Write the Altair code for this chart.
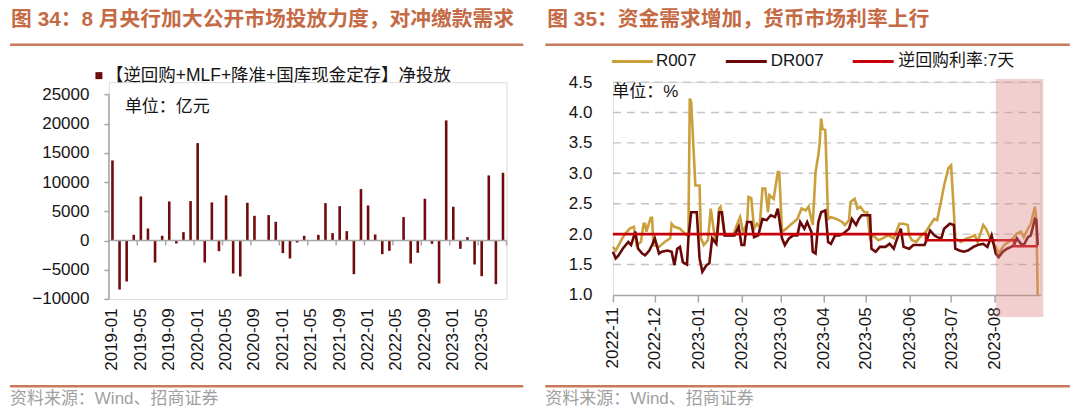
import altair as alt
import pandas as pd

# ---------------- data: left panel ----------------
months = [f"{y}-{m:02d}" for y in range(2019, 2024) for m in range(1, 13)][:56]
net_injection = [
    13700, -8390, -7020, 970, 7530, 2050, -3770, 800, 6680, -510, 1430, 6740,
    16670, -3770, 6510, -1830, 7710, -5650, -6160, 6450, 4220, 0, 4340, 3200,
    -2170, -3080, -340, 800, 0, 970, 6390, 1260, 5880, 1600, -5770, 8790,
    5990, 1030, -2340, -1770, 0, 4000, -3940, -2110, 7140, -570, -7360, 20550,
    5770, -1430, 570, -4110, -6110, 11130, -7480, 11590,
]
left_title = "图 34：8 月央行加大公开市场投放力度，对冲缴款需求"
left_legend = "【逆回购+MLF+降准+国库现金定存】净投放"
left_unit = "单位：亿元"
left_yticks = [-10000, -5000, 0, 5000, 10000, 15000, 20000, 25000]

# ---------------- data: right panel ----------------
r007_dates = [
    "2022-11-01", "2022-11-03", "2022-11-07", "2022-11-09", "2022-11-13", "2022-11-16", "2022-11-18",
    "2022-11-21", "2022-11-23", "2022-11-24", "2022-11-25", "2022-11-28", "2022-11-29", "2022-11-30",
    "2022-12-04", "2022-12-08", "2022-12-12", "2022-12-13", "2022-12-15", "2022-12-19", "2022-12-21",
    "2022-12-24", "2022-12-25", "2022-12-26", "2022-12-27", "2022-12-30", "2023-01-02", "2023-01-03",
    "2023-01-05", "2023-01-08", "2023-01-10", "2023-01-13", "2023-01-15", "2023-01-16", "2023-01-17",
    "2023-01-20", "2023-01-22", "2023-01-26", "2023-01-30", "2023-01-31", "2023-02-02", "2023-02-05",
    "2023-02-06", "2023-02-08", "2023-02-10", "2023-02-12", "2023-02-14", "2023-02-16", "2023-02-18",
    "2023-02-20", "2023-02-21", "2023-02-24", "2023-02-27", "2023-02-28", "2023-03-02", "2023-03-05",
    "2023-03-09", "2023-03-13", "2023-03-16", "2023-03-19", "2023-03-21", "2023-03-24", "2023-03-26",
    "2023-03-28", "2023-03-29", "2023-03-30", "2023-03-31", "2023-04-02", "2023-04-04", "2023-04-06",
    "2023-04-10", "2023-04-14", "2023-04-16", "2023-04-19", "2023-04-20", "2023-04-23", "2023-04-24",
    "2023-04-25", "2023-04-27", "2023-04-30", "2023-05-02", "2023-05-04", "2023-05-06", "2023-05-10",
    "2023-05-13", "2023-05-17", "2023-05-21", "2023-05-25", "2023-05-28", "2023-05-31", "2023-06-01",
    "2023-06-03", "2023-06-06", "2023-06-08", "2023-06-10", "2023-06-13", "2023-06-16", "2023-06-19",
    "2023-06-21", "2023-06-24", "2023-06-26", "2023-06-29", "2023-07-01", "2023-07-03", "2023-07-04",
    "2023-07-08", "2023-07-12", "2023-07-15", "2023-07-18", "2023-07-20", "2023-07-24", "2023-07-26",
    "2023-07-29", "2023-08-02", "2023-08-04", "2023-08-08", "2023-08-11", "2023-08-15", "2023-08-17",
    "2023-08-20", "2023-08-22", "2023-08-25", "2023-08-27", "2023-08-29", "2023-08-30", "2023-08-31",
    "2023-09-01",
]
r007_values = [
    1.79, 1.73, 1.90, 1.98, 2.09, 2.12, 1.82,
    1.87, 2.17, 2.17, 2.04, 2.27, 2.27, 1.82,
    1.79, 1.87, 1.93, 2.17, 2.12, 2.09, 2.04,
    1.98, 1.98, 4.23, 4.17, 2.80, 2.80, 1.93,
    1.82, 1.90, 2.42, 1.93, 2.04, 2.42, 2.45,
    1.98, 1.98, 1.98, 2.23, 2.28, 2.04, 2.17,
    2.61, 2.59, 2.09, 2.17, 2.12, 2.75, 2.75,
    2.36, 2.64, 2.58, 3.02, 3.02, 2.04, 2.09,
    2.17, 2.25, 2.42, 2.39, 2.45, 2.15, 3.02,
    3.30, 3.51, 3.90, 3.73, 3.71, 2.25, 2.28,
    2.25, 2.20, 2.15, 2.23, 2.53, 2.58, 2.50,
    2.42, 2.45, 2.36, 2.36, 1.93, 1.98, 1.90,
    1.93, 1.98, 1.93, 2.17, 2.17, 2.15, 1.98,
    1.90, 1.87, 1.93, 1.98, 2.04, 2.15, 2.25,
    2.23, 2.56, 2.80, 3.08, 3.13, 2.36, 1.93,
    1.87, 1.93, 1.95, 1.98, 1.87, 2.15, 2.09,
    1.93, 1.79, 1.68, 1.82, 1.87, 1.95, 2.01,
    2.04, 1.95, 2.09, 2.17, 2.36, 2.45, 2.25,
    1.00,
]
dr007_dates = [
    "2022-11-01", "2022-11-03", "2022-11-05", "2022-11-08", "2022-11-12", "2022-11-14", "2022-11-17",
    "2022-11-19", "2022-11-22", "2022-11-24", "2022-11-27", "2022-11-29", "2022-12-01", "2022-12-04",
    "2022-12-06", "2022-12-10", "2022-12-13", "2022-12-15", "2022-12-17", "2022-12-19", "2022-12-21",
    "2022-12-24", "2022-12-25", "2022-12-27", "2022-12-31", "2023-01-02", "2023-01-04", "2023-01-07",
    "2023-01-09", "2023-01-11", "2023-01-14", "2023-01-16", "2023-01-18", "2023-01-20", "2023-01-24",
    "2023-01-27", "2023-01-30", "2023-02-01", "2023-02-03", "2023-02-05", "2023-02-08", "2023-02-10",
    "2023-02-13", "2023-02-16", "2023-02-19", "2023-02-22", "2023-02-25", "2023-02-27", "2023-03-02",
    "2023-03-04", "2023-03-07", "2023-03-10", "2023-03-13", "2023-03-15", "2023-03-18", "2023-03-20",
    "2023-03-23", "2023-03-24", "2023-03-26", "2023-03-28", "2023-03-30", "2023-04-02", "2023-04-04",
    "2023-04-06", "2023-04-09", "2023-04-12", "2023-04-15", "2023-04-19", "2023-04-21", "2023-04-24",
    "2023-04-26", "2023-04-28", "2023-05-01", "2023-05-04", "2023-05-05", "2023-05-08", "2023-05-11",
    "2023-05-15", "2023-05-18", "2023-05-21", "2023-05-23", "2023-05-26", "2023-05-28", "2023-06-01",
    "2023-06-04", "2023-06-08", "2023-06-12", "2023-06-14", "2023-06-16", "2023-06-19", "2023-06-21",
    "2023-06-24", "2023-06-26", "2023-06-30", "2023-07-03", "2023-07-04", "2023-07-07", "2023-07-10",
    "2023-07-13", "2023-07-17", "2023-07-20", "2023-07-24", "2023-07-27", "2023-07-30", "2023-08-02",
    "2023-08-04", "2023-08-07", "2023-08-10", "2023-08-13", "2023-08-15", "2023-08-17", "2023-08-20",
    "2023-08-22", "2023-08-25", "2023-08-27", "2023-08-30", "2023-08-31", "2023-09-01",
]
dr007_values = [
    1.71, 1.60, 1.65, 1.76, 1.87, 1.82, 2.04,
    1.76, 1.68, 1.65, 1.73, 1.82, 1.93, 1.68,
    1.71, 1.73, 1.71, 1.49, 1.76, 1.79, 1.54,
    1.50, 1.93, 2.36, 2.36, 1.60, 1.38, 1.49,
    1.52, 1.93, 1.84, 2.36, 2.36, 1.98, 1.98,
    1.98, 2.12, 1.82, 1.82, 2.20, 2.20, 1.95,
    1.98, 2.25, 2.23, 2.31, 2.28, 2.42, 1.93,
    1.82, 1.93, 1.98, 1.98, 2.20, 2.09, 2.20,
    2.04, 1.71, 1.68, 2.20, 2.36, 2.39, 1.87,
    1.84, 1.98, 1.98, 2.01, 2.09, 2.25, 2.15,
    2.25, 2.31, 2.31, 2.31, 1.76, 1.71, 1.79,
    1.79, 1.84, 1.76, 1.90, 2.09, 1.79, 1.76,
    1.82, 1.82, 1.82, 1.93, 2.06, 1.98, 1.95,
    1.93, 2.09, 2.17, 2.15, 1.76, 1.73, 1.71,
    1.73, 1.79, 1.82, 1.84, 1.79, 1.98, 1.68,
    1.62, 1.71, 1.76, 1.79, 1.82, 1.93, 1.84,
    1.82, 1.95, 1.98, 2.25, 2.23, 1.82,
]
repo_dates = ["2022-11-01", "2023-06-13", "2023-08-15", "2023-09-01"]
repo_rates = [2.0, 1.9, 1.8, 1.8]
shade_range = ["2023-08-02", "2023-09-05"]
x_span = ["2022-11-01", "2023-09-03"]
month_ticks = [(2022, 11), (2022, 12), (2023, 1), (2023, 2), (2023, 3), (2023, 4),
               (2023, 5), (2023, 6), (2023, 7), (2023, 8)]
right_yticks = [1.0, 1.5, 2.0, 2.5, 3.0, 3.5, 4.0, 4.5]
right_title = "图 35：资金需求增加，货币市场利率上行"
right_unit = "单位：%"
series_names = ["R007", "DR007", "逆回购利率:7天"]
source_text = "资料来源：Wind、招商证券"

# ---------------- styles ----------------
FONT = "Liberation Sans, Noto Sans CJK SC"
TITLE_COLOR = "#C46A45"
DECO_COLOR = "#C97A5A"
AXIS_GRAY = "#A6A6A6"
GRID_GRAY = "#C4C4C4"
BAR_COLOR = "#700C0C"
GOLD = "#C9A03C"
MAROON = "#6A0808"
RED = "#C8000A"
TXT = "#151515"

LW, LH = 398, 217
RW, RH = 428, 213


def one_row():
    return pd.DataFrame({"k": [0]})


def text_layer(txt, x, y, size=17, color=TXT, weight="normal"):
    return alt.Chart(pd.DataFrame({"t": [txt]})).mark_text(
        align="left", baseline="middle", font=FONT, fontSize=size,
        color=color, fontWeight=weight
    ).encode(x=alt.value(x), y=alt.value(y), text="t:N")


def hline(x1, x2, y, color, width):
    return alt.Chart(one_row()).mark_rule(color=color, strokeWidth=width).encode(
        x=alt.value(x1), x2=alt.value(x2), y=alt.value(y))


# ---------------- left panel ----------------
bar_df = pd.DataFrame({"month": months, "value": net_injection})
xsc = alt.Scale(domain=months, paddingInner=0, paddingOuter=0)
ysc = alt.Scale(domain=[-10000, 27100], nice=False, zero=False)

lx_axis = alt.Axis(values=months[::4], bandPosition=0, labelAngle=-90,
                   labelFont=FONT, labelFontSize=17, labelColor=TXT,
                   domain=False, ticks=False, tickSize=0, labelPadding=9,
                   labelOverlap=False, grid=False, title=None)
ly_axis = alt.Axis(values=left_yticks, format="d", domain=False, ticks=True, tickSize=5,
                   tickColor=AXIS_GRAY, tickWidth=1.5, labelPadding=15,
                   labelFont=FONT, labelFontSize=17, labelColor=TXT,
                   grid=False, labelOverlap=False, title=None)


def lx(field="month:N", **kw):
    return alt.X(field, scale=xsc, sort=None, axis=lx_axis, **kw)


def ly(field="value:Q"):
    return alt.Y(field, scale=ysc, axis=ly_axis)


bars = alt.Chart(bar_df).mark_bar(size=2.6, color=BAR_COLOR).encode(
    x=lx(), y=ly(), y2=alt.datum(0))
zero_line = alt.Chart(pd.DataFrame({"value": [0]})).mark_rule(
    color=AXIS_GRAY, strokeWidth=1.5).encode(y=ly())
yaxis_line = alt.Chart(pd.DataFrame({"value": [-10000], "v2": [25000]})).mark_rule(
    color=AXIS_GRAY, strokeWidth=1.5).encode(x=alt.value(0), y=ly(), y2="v2:Q")
zero_ticks = alt.Chart(pd.DataFrame({"month": months[4::4], "value": 0, "v2": -850})).mark_rule(
    color=AXIS_GRAY, strokeWidth=1.5).encode(x=lx(bandPosition=0), y=ly(), y2="v2:Q")
end_tick = alt.Chart(pd.DataFrame({"value": [0], "v2": [-850]})).mark_rule(
    color=AXIS_GRAY, strokeWidth=1.5).encode(x=alt.value(LW), y=ly(), y2="v2:Q")
legend_sq = alt.Chart(one_row()).mark_square(size=49, color=BAR_COLOR, opacity=1).encode(
    x=alt.value(-10), y=alt.value(-6.5))

left = alt.layer(
    bars, zero_line, yaxis_line, zero_ticks, end_tick, legend_sq,
    text_layer(left_legend, -3, -6.5, size=17.5),
    text_layer(left_unit, 16, 25),
    text_layer(left_title, -97.9, -62, size=20.8, color=TITLE_COLOR, weight="bold"),
    hline(-98.95, 414.8, -37.3, DECO_COLOR, 2.5),
    hline(-98.95, 414.8, 304.5, DECO_COLOR, 2.5),
    text_layer(source_text, -99, 317, size=17, color="#A0A0A0"),
).properties(width=LW, height=LH)

# ---------------- right panel ----------------
r_df = pd.DataFrame({"date": r007_dates, "value": r007_values})
d_df = pd.DataFrame({"date": dr007_dates, "value": dr007_values})
repo_df = pd.DataFrame({"date": repo_dates, "value": repo_rates})
shade_df = pd.DataFrame({"date": [shade_range[0]], "end": [shade_range[1]]})
grid_df = pd.DataFrame([(d, v) for v in right_yticks[1:] for d in x_span],
                       columns=["date", "value"])

tsc = alt.Scale(type="utc", domain=[
    alt.DateTime(year=2022, month=11, date=1, utc=True),
    alt.DateTime(year=2023, month=9, date=3, utc=True)])
rysc = alt.Scale(domain=[1.0, 4.5], nice=False, zero=False)

rx_axis = alt.Axis(
    values=[alt.DateTime(year=y, month=m, date=1, utc=True) for (y, m) in month_ticks],
    format="%Y-%m", labelAngle=-90, labelFont=FONT, labelFontSize=17, labelColor=TXT,
    domainColor=AXIS_GRAY, domainWidth=1.5, tickColor=AXIS_GRAY, tickWidth=1.5,
    tickSize=7, labelPadding=5, grid=False, labelOverlap=False, title=None)
ry_axis = alt.Axis(values=right_yticks, format=".1f", grid=False, domain=False, ticks=False,
                   labelPadding=21, labelFont=FONT, labelFontSize=17, labelColor=TXT,
                   labelOverlap=False, title=None)


def rx(field="date:T"):
    return alt.X(field, scale=tsc, axis=rx_axis)


def ry(field="value:Q"):
    return alt.Y(field, scale=rysc, axis=ry_axis)


grid = alt.Chart(grid_df).mark_line(color=GRID_GRAY, strokeWidth=1.4,
                                    strokeDash=[8, 6]).encode(
    x=rx(), y=ry(), detail="value:N")
r_line = alt.Chart(r_df).mark_line(color=GOLD, strokeWidth=2.6).encode(x=rx(), y=ry())
d_line = alt.Chart(d_df).mark_line(color=MAROON, strokeWidth=2.6).encode(x=rx(), y=ry())
repo_line = alt.Chart(repo_df).mark_line(color=RED, strokeWidth=2.6,
                                         interpolate="step-after").encode(x=rx(), y=ry())
shade = alt.Chart(shade_df).mark_rect(color="#DE8080", opacity=0.38).encode(
    x=rx(), x2="end:T", y=alt.value(-3), y2=alt.value(RH + 22))

legend_layers = []
for (x1, x2, tx), name, col in zip([(-1, 40, 43), (113, 154, 158), (240, 281, 285.5)],
                                   series_names, [GOLD, MAROON, RED]):
    legend_layers.append(hline(x1, x2, -20.7, col, 3))
    legend_layers.append(text_layer(name, tx, -20.7))

right = alt.layer(
    grid, r_line, d_line, repo_line, shade, *legend_layers,
    text_layer(right_unit, -0.7, 10),
    text_layer(right_title, -65.7, -62, size=20.8, color=TITLE_COLOR, weight="bold"),
    hline(-67.7, 457.3, -37.3, DECO_COLOR, 2.5),
    hline(-67.7, 457.3, 304.5, DECO_COLOR, 2.5),
    text_layer(source_text, -67.7, 317, size=17, color="#A0A0A0"),
).properties(width=RW, height=RH)

chart = alt.hconcat(left, right, spacing=106.5, bounds="flush", padding=0).configure_view(
    strokeWidth=0).configure(background="white")

chart.save("out.html", embed_options={"renderer": "svg", "actions": False})
